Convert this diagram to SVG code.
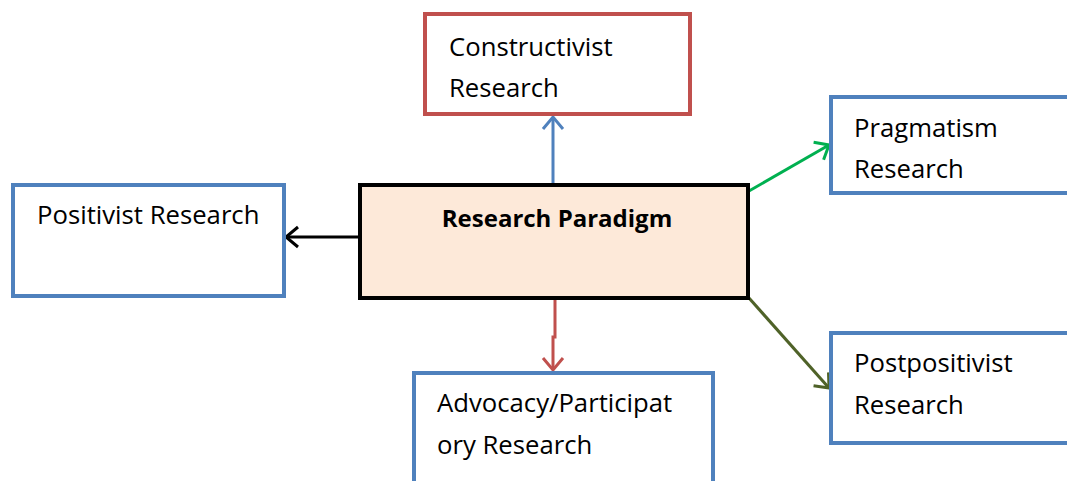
<svg xmlns="http://www.w3.org/2000/svg" width="1067" height="481" viewBox="0 0 1067 481">
<style>
  .box { fill: #ffffff; stroke: #4F81BD; stroke-width: 4; }
  .red { stroke: #C0504D; }
  .main { fill: #FDE9D9; stroke: #000000; stroke-width: 4; }
  .t { font-family: "Open Sans", "Liberation Sans", sans-serif; font-size: 25.7px; fill: #000000; }
  .b { font-weight: bold; font-size: 24px; }
  .c { fill: none; stroke-width: 3; }
</style>
<defs>
  <marker id="mBlue" markerUnits="userSpaceOnUse" markerWidth="30" markerHeight="30" refX="0" refY="0" viewBox="-15 -15 30 30" orient="auto" overflow="visible">
    <path d="M-12,-10 L0,0 L-12,10" fill="none" stroke="#4F81BD" stroke-width="3"/>
  </marker>
  <marker id="mBlack" markerUnits="userSpaceOnUse" markerWidth="30" markerHeight="30" refX="0" refY="0" viewBox="-15 -15 30 30" orient="auto" overflow="visible">
    <path d="M-12,-10 L0,0 L-12,10" fill="none" stroke="#000000" stroke-width="3"/>
  </marker>
  <marker id="mGreen" markerUnits="userSpaceOnUse" markerWidth="30" markerHeight="30" refX="0" refY="0" viewBox="-15 -15 30 30" orient="auto" overflow="visible">
    <path d="M-12,-10 L0,0 L-12,10" fill="none" stroke="#00B050" stroke-width="3"/>
  </marker>
  <marker id="mOlive" markerUnits="userSpaceOnUse" markerWidth="30" markerHeight="30" refX="0" refY="0" viewBox="-15 -15 30 30" orient="auto" overflow="visible">
    <path d="M-12,-10 L0,0 L-12,10" fill="none" stroke="#4F6228" stroke-width="3"/>
  </marker>
  <marker id="mRed" markerUnits="userSpaceOnUse" markerWidth="30" markerHeight="30" refX="0" refY="0" viewBox="-15 -15 30 30" orient="auto" overflow="visible">
    <path d="M-12,-10 L0,0 L-12,10" fill="none" stroke="#C0504D" stroke-width="3"/>
  </marker>
</defs>

<g id="connectors">
  <line class="c" x1="553" y1="185" x2="553" y2="117" stroke="#4F81BD" marker-end="url(#mBlue)"/>
  <line class="c" x1="360" y1="237" x2="286" y2="237" stroke="#000000" marker-end="url(#mBlack)"/>
  <line class="c" x1="749" y1="191" x2="829" y2="145" stroke="#00B050" marker-end="url(#mGreen)"/>
  <line class="c" x1="749" y1="298" x2="829" y2="388" stroke="#4F6228" marker-end="url(#mOlive)"/>
  <polyline class="c" points="555,299 555,337 553,337 553,370" stroke="#C0504D" marker-end="url(#mRed)"/>
</g>

<g id="constructivist">
  <rect class="box red" x="425" y="14" width="265" height="100"/>
  <text class="t" x="449" y="56">Constructivist</text>
  <text class="t" x="449" y="97">Research</text>
</g>

<g id="positivist">
  <rect class="box" x="13" y="185" width="271" height="111"/>
  <text class="t" x="37" y="224">Positivist Research</text>
</g>

<g id="paradigm">
  <rect class="main" x="360" y="185" width="388" height="113"/>
  <text class="t b" x="557" y="227" text-anchor="middle">Research Paradigm</text>
</g>

<g id="pragmatism">
  <rect class="box" x="831" y="97" width="250" height="96"/>
  <text class="t" x="854" y="137">Pragmatism</text>
  <text class="t" x="854" y="178">Research</text>
</g>

<g id="postpositivist">
  <rect class="box" x="831" y="333" width="250" height="110"/>
  <text class="t" x="854" y="372">Postpositivist</text>
  <text class="t" x="854" y="414">Research</text>
</g>

<g id="advocacy">
  <rect class="box" x="414" y="373" width="299" height="120"/>
  <text class="t" x="437" y="412">Advocacy/Participat</text>
  <text class="t" x="437" y="454">ory Research</text>
</g>
</svg>
